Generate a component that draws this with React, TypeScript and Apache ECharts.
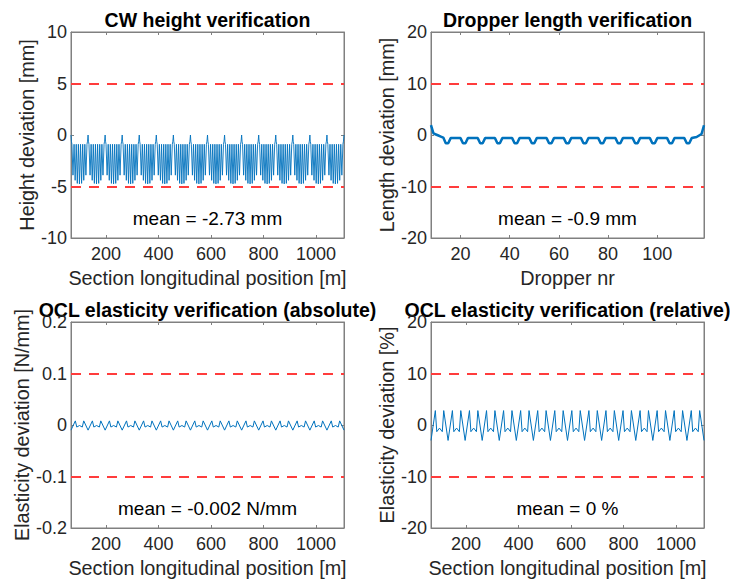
import React, { useEffect, useRef } from "react";
import * as echarts from "echarts";

const FONT = '"Liberation Sans", Arial, Helvetica, sans-serif';
const TEXT = "#262626";
const AXIS = "#808080";
const BLUE = "#0072BD";
const RED = "#ff3c3c";

const titles = [
  "CW height verification",
  "Dropper length verification",
  "OCL elasticity verification (absolute)",
  "OCL elasticity verification (relative)",
];
const xNames = [
  "Section longitudinal position [m]",
  "Dropper nr",
  "Section longitudinal position [m]",
  "Section longitudinal position [m]",
];
const yNames = [
  "Height deviation [mm]",
  "Length deviation [mm]",
  "Elasticity deviation [N/mm]",
  "Elasticity deviation [%]",
];
const meanTexts = ["mean = -2.73 mm", "mean = -0.9 mm", "mean = -0.002 N/mm", "mean = 0 %"];

// tick labels
const positionTicks = [200, 400, 600, 800, 1000];
const dropperTicks = [20, 40, 60, 80, 100];
const heightTicks = [-10, -5, 0, 5, 10];
const lengthTicks = [-20, -10, 0, 10, 20];
const absTicks = [-0.2, -0.1, 0, 0.1, 0.2];
const relTicks = [-20, -10, 0, 10, 20];

// tolerance limits (red dashed)
const heightLimits = [-5, 5];
const lengthLimits = [-10, 10];
const absLimits = [-0.1, 0.1];
const relLimits = [-10, 10];

// support (span boundary) positions [m]
const supports = [67, 132, 197, 262, 327, 392, 457, 522, 587, 652, 717, 782, 847, 912, 977, 1042, 1107];

// one span of contact wire height deviation [mm] (offset from support [m])
const cwSpanOffsets = [0, 1.5, 3.5, 7.6, 11.7, 15.8, 19.9, 24.0, 28.1, 32.2, 36.3, 40.4, 44.5, 48.6, 52.7, 56.8, 60.9, 63.0];
const cwSpanHeights = [0.0, -0.6, -0.9, -3.9, -0.9, -4.4, -0.9, -4.7, -0.9, -4.75, -0.9, -4.7, -0.9, -4.4, -0.9, -3.9, -0.9, -0.6];

// one span of elasticity deviation
const elSpanOffsets = [0, 16.5, 22, 32.5, 43, 48.5];
const elAbsSpan = [-0.01, 0.008, -0.004, -0.001, -0.004, 0.008];
const elRelSpan = [-3.0, 2.8, -1.3, -0.6, -1.3, 2.8];

// dropper length deviation [mm], droppers 8..119
const firstDropper = 8;
const dropperLength = [
  1.9, 0.3, 0.1, -0.1, -0.3, -0.5,
  -1.6, -1.6, -0.6, -0.6, -0.6, -0.6, -0.6,
  -1.6, -1.6, -0.6, -0.6, -0.6, -0.6, -0.6,
  -1.6, -1.6, -0.6, -0.6, -0.6, -0.6, -0.6,
  -1.6, -1.6, -0.6, -0.6, -0.6, -0.6, -0.6,
  -1.6, -1.6, -0.6, -0.6, -0.6, -0.6, -0.6,
  -1.6, -1.6, -0.6, -0.6, -0.6, -0.6, -0.6,
  -1.6, -1.6, -0.6, -0.6, -0.6, -0.6, -0.6,
  -1.6, -1.6, -0.6, -0.6, -0.6, -0.6, -0.6,
  -1.6, -1.6, -0.6, -0.6, -0.6, -0.6, -0.6,
  -1.6, -1.6, -0.6, -0.6, -0.6, -0.6, -0.6,
  -1.6, -1.6, -0.6, -0.6, -0.6, -0.6, -0.6,
  -1.6, -1.6, -0.6, -0.6, -0.6, -0.6, -0.6,
  -1.6, -1.6, -0.6, -0.6, -0.6, -0.6, -0.6,
  -1.6, -1.6, -0.6, -0.6, -0.6, -0.6, -0.6,
  -1.6, -1.6, -0.6, -0.5, -0.4, -0.1, 0.2, 1.9,
];

function spanSeries(offsets: number[], values: number[]): number[][] {
  const out: number[][] = [];
  for (let s = 0; s < supports.length - 1; s++) {
    for (let k = 0; k < offsets.length; k++) out.push([supports[s] + offsets[k], values[k]]);
  }
  out.push([supports[supports.length - 1], values[0]]);
  return out;
}

const grids = [
  { left: 71, top: 32, width: 273, height: 206 },
  { left: 431, top: 32, width: 273, height: 206 },
  { left: 71, top: 322, width: 273, height: 206 },
  { left: 431, top: 322, width: 273, height: 206 },
];

const plain = (v: number) => String(v);

function xAxes(i: number, min: number, max: number, ticks: number[], name: string) {
  const base = {
    type: "value",
    gridIndex: i,
    min,
    max,
    splitLine: { show: false },
    axisLine: { show: true, onZero: false, lineStyle: { color: AXIS, width: 1 } },
    axisTick: { show: true, inside: true, length: 3, customValues: ticks, lineStyle: { color: AXIS } },
  };
  return [
    {
      ...base,
      position: "bottom",
      name,
      nameLocation: "middle",
      nameGap: 30,
      nameTextStyle: { fontSize: 19.8, color: TEXT, fontFamily: FONT },
      axisLabel: { show: true, customValues: ticks, formatter: plain, fontSize: 18, color: TEXT, fontFamily: FONT, margin: 7 },
    },
    { ...base, position: "top", axisLabel: { show: false } },
  ];
}

function yAxes(i: number, min: number, max: number, ticks: number[], name: string) {
  const base = {
    type: "value",
    gridIndex: i,
    min,
    max,
    splitLine: { show: false },
    axisLine: { show: true, onZero: false, lineStyle: { color: AXIS, width: 1 } },
    axisTick: { show: true, inside: true, length: 3, customValues: ticks, lineStyle: { color: AXIS } },
  };
  return [
    {
      ...base,
      position: "left",
      name,
      nameLocation: "middle",
      nameGap: 34,
      nameTextStyle: { fontSize: 19.8, color: TEXT, fontFamily: FONT },
      axisLabel: { show: true, customValues: ticks, formatter: plain, fontSize: 18, color: TEXT, fontFamily: FONT, margin: 4 },
    },
    { ...base, position: "right", axisLabel: { show: false } },
  ];
}

function limitLine(limits: number[]) {
  return {
    silent: true,
    symbol: ["none", "none"],
    label: { show: false },
    lineStyle: { color: RED, type: [10, 8], width: 2 },
    data: limits.map((v) => ({ yAxis: v })),
  };
}

export default function App() {
  const ref = useRef<HTMLDivElement>(null);
  useEffect(() => {
    if (!ref.current) return;
    const chart = echarts.init(ref.current, undefined, { renderer: "svg" });

    const cwData = spanSeries(cwSpanOffsets, cwSpanHeights);
    const absData = spanSeries(elSpanOffsets, elAbsSpan);
    const relData = spanSeries(elSpanOffsets, elRelSpan);
    const dropData = dropperLength.map((v, k) => [firstDropper + k, v]);

    const xMin = supports[0];
    const xMax = supports[supports.length - 1];

    const graphic: any[] = [];
    grids.forEach((g, i) => {
      const cx = g.left + g.width / 2;
      graphic.push({
        type: "text",
        x: cx,
        y: g.top - 12,
        style: {
          text: titles[i],
          fill: "#000",
          fontSize: 19.5,
          fontWeight: "bold",
          fontFamily: FONT,
          align: "center",
          verticalAlign: "middle",
        },
      });
      graphic.push({
        type: "text",
        x: cx,
        y: g.top + 186,
        style: {
          text: meanTexts[i],
          fill: "#000",
          fontSize: 19,
          fontFamily: FONT,
          align: "center",
          verticalAlign: "middle",
        },
      });
    });

    chart.setOption({
      animation: false,
      backgroundColor: "#fff",
      grid: grids.map((g) => ({ ...g, show: true, borderColor: AXIS, borderWidth: 1, backgroundColor: "#fff" })),
      xAxis: [
        ...xAxes(0, xMin, xMax, positionTicks, xNames[0]),
        ...xAxes(1, 8, 119, dropperTicks, xNames[1]),
        ...xAxes(2, xMin, xMax, positionTicks, xNames[2]),
        ...xAxes(3, xMin, xMax, positionTicks, xNames[3]),
      ],
      yAxis: [
        ...yAxes(0, -10, 10, heightTicks, yNames[0]),
        ...yAxes(1, -20, 20, lengthTicks, yNames[1]),
        ...yAxes(2, -0.2, 0.2, absTicks, yNames[2]),
        ...yAxes(3, -20, 20, relTicks, yNames[3]),
      ],
      series: [
        {
          type: "line",
          xAxisIndex: 0,
          yAxisIndex: 0,
          data: cwData,
          showSymbol: false,
          lineStyle: { color: BLUE, width: 0.9 },
          markLine: limitLine(heightLimits),
        },
        {
          type: "line",
          xAxisIndex: 2,
          yAxisIndex: 2,
          data: dropData,
          showSymbol: false,
          lineStyle: { color: BLUE, width: 2.5 },
          markLine: limitLine(lengthLimits),
        },
        {
          type: "line",
          xAxisIndex: 4,
          yAxisIndex: 4,
          data: absData,
          showSymbol: false,
          lineStyle: { color: BLUE, width: 1 },
          markLine: limitLine(absLimits),
        },
        {
          type: "line",
          xAxisIndex: 6,
          yAxisIndex: 6,
          data: relData,
          showSymbol: false,
          lineStyle: { color: BLUE, width: 1 },
          markLine: limitLine(relLimits),
        },
      ],
      graphic,
    });
    return () => chart.dispose();
  }, []);
  return (
    <div
      ref={ref}
      style={{ position: "fixed", left: 0, top: 0, width: 730, height: 580, background: "#fff" }}
    />
  );
}
